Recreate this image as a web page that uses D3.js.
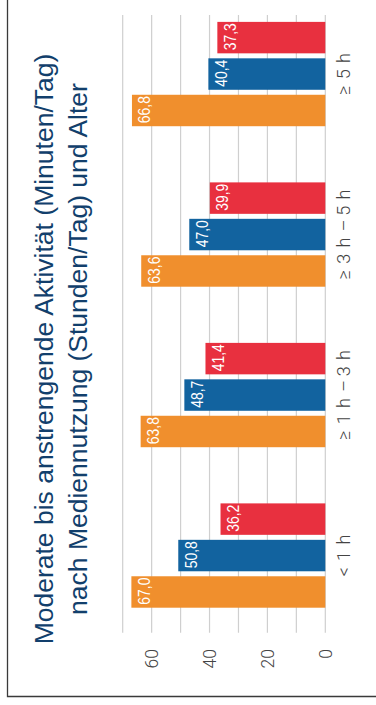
<!DOCTYPE html>
<html>
<head>
<meta charset="utf-8">
<script src="https://cdn.jsdelivr.net/npm/d3@7"></script>
<style>
  html, body { margin: 0; padding: 0; background: #fff; }
  svg { display: block; }
</style>
</head>
<body>
<div id="chart"></div>
<script>
// Minutes per day of moderate-to-vigorous activity by daily media use
const categories = ["< 1 h", "≥ 1 h – 3 h", "≥ 3 h – 5 h", "≥ 5 h"];
const seriesKeys = ["orange", "blue", "red"];
const valuesOrange = [67.0, 63.8, 63.6, 66.8];
const valuesBlue = [50.8, 48.7, 47.0, 40.4];
const valuesRed = [36.2, 41.4, 39.9, 37.3];
const gridTicks = [0, 10, 20, 30, 40, 50, 60, 70];
const labelTicks = [0, 20, 40, 60];
const titleLines = [
  "Moderate bis anstrengende Aktivität (Minuten/Tag)",
  "nach Mediennutzung (Stunden/Tag) und Alter"
];

const colors = { orange: "#f08f2d", blue: "#12639f", red: "#e8303f" };
const seriesValues = { orange: valuesOrange, blue: valuesBlue, red: valuesRed };

const pageW = 376, pageH = 705;

const svg = d3.select("#chart").append("svg")
  .attr("width", pageW).attr("height", pageH);

// Outer frame (left and bottom edges visible)
svg.append("path")
  .attr("d", `M7.5,0 V696.5 H${pageW}`)
  .attr("fill", "none").attr("stroke", "#3a3a3a").attr("stroke-width", 1.3);

// The chart is laid out as a normal column chart and turned a quarter turn
const g = svg.append("g").attr("transform", `translate(0,${pageH}) rotate(-90)`);

const x0 = d3.scaleBand().domain(categories)
  .range([69.2, 711.2]).paddingInner(0.35).paddingOuter(0.175);
const x1 = d3.scaleBand().domain(seriesKeys)
  .range([0, x0.bandwidth()]).paddingInner(0.137).paddingOuter(0);
const y = d3.scaleLinear().domain([0, 70]).range([325.3, 122.7]);

// Gridlines
g.append("g").selectAll("line").data(gridTicks).join("line")
  .attr("x1", 72.3).attr("x2", 690)
  .attr("y1", d => y(d)).attr("y2", d => y(d))
  .attr("stroke", "#cfcfcf").attr("stroke-width", 1.2);

// Value axis labels
g.append("g").selectAll("text").data(labelTicks).join("text")
  .attr("x", 56).attr("y", d => y(d)).attr("dy", "0.36em")
  .attr("text-anchor", "end")
  .attr("font-family", "Roboto, 'Liberation Sans', Arial, sans-serif")
  .attr("font-weight", 300)
  .attr("font-size", 17.5).attr("fill", "#444")
  .text(d => d);

// Bars
const groups = g.append("g").selectAll("g").data(categories).join("g")
  .attr("transform", d => `translate(${x0(d)},0)`);

const cells = groups.selectAll("g").data((c, i) => seriesKeys.map(k => ({ key: k, value: seriesValues[k][i] })))
  .join("g");

cells.append("rect")
  .attr("x", d => x1(d.key)).attr("width", x1.bandwidth())
  .attr("y", d => y(d.value)).attr("height", d => y(0) - y(d.value))
  .attr("fill", d => colors[d.key]);

// Value labels in a narrowed face, inside the bar end
const fmt = d3.format(".1f");
cells.append("text")
  .attr("transform", d => `translate(${x1(d.key) + 3},${y(d.value) + 18.3}) scale(0.82,1)`)
  .attr("font-family", "'Liberation Sans', Arial, sans-serif")
  .attr("font-size", 17)
  .attr("fill", "#fff")
  .text(d => fmt(d.value).replace(".", ","));

// Category labels
g.append("g").selectAll("text").data(categories).join("text")
  .attr("x", d => x0(d) + x0.bandwidth() / 2).attr("y", 350)
  .attr("text-anchor", "middle")
  .attr("font-family", "Roboto, 'Liberation Sans', Arial, sans-serif")
  .attr("font-weight", 300)
  .attr("font-size", 18).attr("word-spacing", 2).attr("fill", "#444")
  .text(d => d.replace("– ", "–\u2009"));

// Title
g.append("g").selectAll("text").data(titleLines).join("text")
  .attr("x", 356).attr("y", (d, i) => 53.3 + i * 33.7)
  .attr("text-anchor", "middle")
  .attr("font-family", "'Liberation Sans', Arial, Helvetica, sans-serif")
  .attr("font-size", 26.5).attr("fill", "#123f6c")
  .text(d => d);
</script>
</body>
</html>
